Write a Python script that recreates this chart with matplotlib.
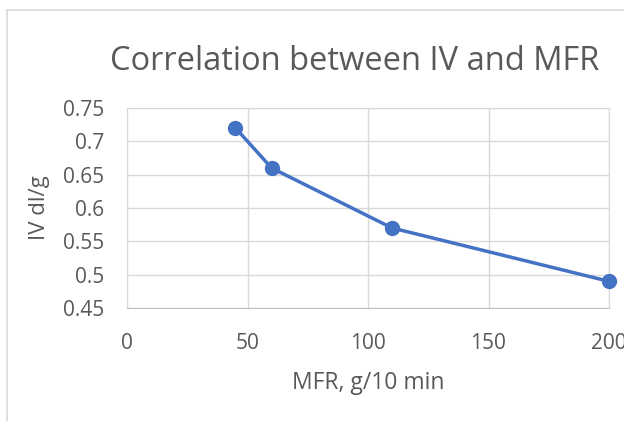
import matplotlib
matplotlib.use("Agg")
import matplotlib.pyplot as plt
from matplotlib.lines import Line2D

# data
mfr = [45, 60, 110, 200]
iv = [0.72, 0.66, 0.57, 0.49]
xticks = [0, 50, 100, 150, 200]
yticks = [0.45, 0.5, 0.55, 0.6, 0.65, 0.7, 0.75]
ytick_labels = ["0.45", "0.5", "0.55", "0.6", "0.65", "0.7", "0.75"]

plt.rcParams['font.family'] = ['Open Sans', 'DejaVu Sans']
txt = '#595959'
grid = '#d9d9d9'

W, H = 624, 421
fig = plt.figure(figsize=(W / 100, H / 100), dpi=100)
ax = fig.add_axes([127 / W, 1 - 308 / H, (609 - 127) / W, (308 - 108) / H])

ax.plot(mfr, iv, color='#4472C4', lw=2.5, marker='o', markersize=10, zorder=3,
        clip_on=False)

ax.set_xlim(0, 200)
ax.set_ylim(0.45, 0.75)
ax.set_xticks(xticks)
ax.set_yticks(yticks)
ax.set_yticklabels(ytick_labels)
ax.grid(True, color=grid, lw=1)
ax.set_axisbelow(True)
for s in ax.spines.values():
    s.set_color(grid)
ax.spines['bottom'].set_color('#bfbfbf')
ax.tick_params(length=0, labelsize=15, labelcolor=txt)
ax.tick_params(axis='x', pad=18)
ax.tick_params(axis='y', pad=16.5)

ax.set_xlabel("MFR, g/10 min", fontsize=16.5, color=txt)
ax.set_ylabel("IV dl/g", fontsize=16, color=txt)
ax.xaxis.set_label_coords(368 / W, 1 - 383 / H, transform=fig.transFigure)
ax.yaxis.set_label_coords(39 / W, 1 - 208 / H, transform=fig.transFigure)
ax.xaxis.label.set_va('center')
ax.yaxis.label.set_va('center')
fig.text(355 / W, 1 - 61 / H, "Correlation between IV and MFR", fontsize=23.5,
         color=txt, ha='center', va='center')

# chart area border
fig.add_artist(Line2D([7 / W, 7 / W], [0, 1 - 10 / H], color=grid, lw=1.2))
fig.add_artist(Line2D([7 / W, 1], [1 - 10 / H, 1 - 10 / H], color=grid, lw=1.2))

fig.savefig("out.png", dpi=100)
